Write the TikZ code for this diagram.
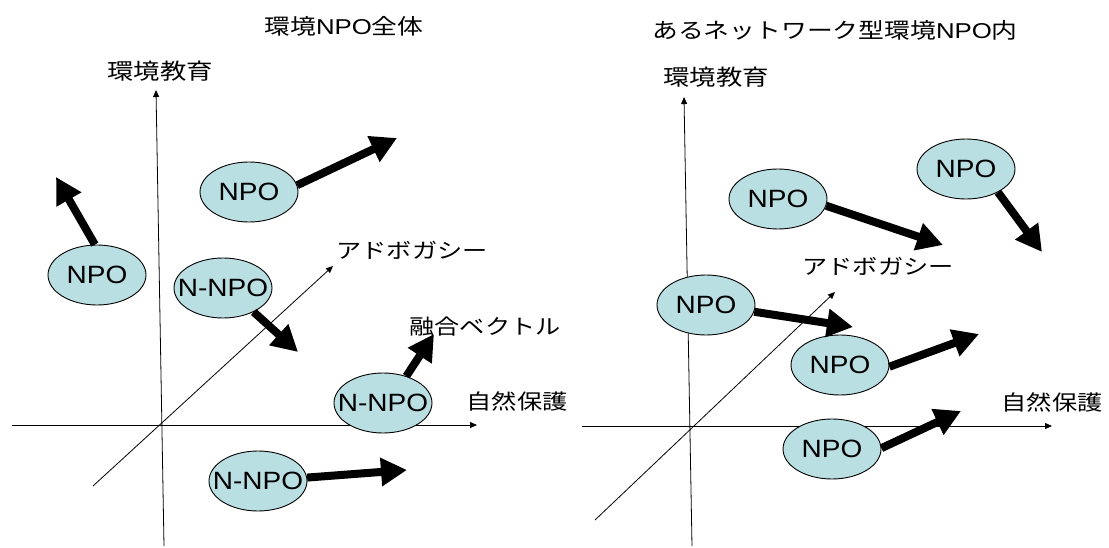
\documentclass[tikz,border=0pt]{standalone}
\usepackage{fontspec}
\setmainfont{Liberation Sans}[FakeStretch=1.2]
\newfontfamily\cjk{Noto Sans CJK JP}[FakeStretch=1.2]
\newfontfamily\orgfont{Liberation Sans}[FakeStretch=1.12]
\newcommand{\orgtxt}[1]{\smash{\raisebox{-0.358em}{\makebox[0pt]{#1}}}}
\usetikzlibrary{arrows.meta,shapes.geometric}
\definecolor{npofill}{RGB}{185,223,227}
\tikzset{
  org/.style={ellipse, draw=black, line width=0.9pt, fill=npofill, minimum width=98pt, minimum height=60pt, inner sep=0pt, font=\fontsize{25}{29}\selectfont\orgfont},
  lbl/.style={inner sep=0pt, font=\fontsize{21}{25}\selectfont\cjk},
  ttl/.style={inner sep=0pt, font=\fontsize{21.5}{25}\selectfont},
  axis/.style={line width=0.8pt, -{Triangle[length=7pt,width=6pt]}},
  vec/.style={line width=8pt, -{Triangle[length=26pt,width=27pt]}}
}
\begin{document}
\begin{tikzpicture}[x=1pt,y=-1pt]
\useasboundingbox (0,0) rectangle (1109,548);
% ---------- left panel ----------
\node[ttl] (t1) at (344,26) {{\cjk 環境}NPO{\cjk 全体}};
\node[lbl, font=\fontsize{22}{26}\selectfont\cjk] (ey1) at (160,71) {環境教育};
\node[lbl] (ad1) at (412,250) {アドボガシー};
\node[lbl] (nc1) at (517,401) {自然保護};
\node[lbl] (fv1) at (485,327) {融合ベクトル};
\coordinate (v1a) at (164,546); \coordinate (v1b) at (156,90);
\coordinate (h1a) at (12,425); \coordinate (h1b) at (477,425);
\coordinate (d1a) at (93,486); \coordinate (d1b) at (333,266);
\draw[axis] (v1a) -- (v1b);
\draw[axis] (h1a) -- (h1b);
\draw[axis] (d1a) -- (d1b);
\node[org] (A) at (249,192) {\orgtxt{NPO}};
\node[org] (B) at (97,275) {\orgtxt{NPO}};
\node[org] (C) at (223,288) {\orgtxt{N-NPO}};
\node[org] (D) at (383,403) {\orgtxt{N-NPO}};
\node[org] (E) at (258,481) {\orgtxt{N-NPO}};
\coordinate (tA) at (397,138);
\coordinate (tB) at (56,177);
\coordinate (tC) at (298,352);
\coordinate (tD) at (434,334);
\coordinate (tE) at (407,470);
\draw[vec] (A.8) -- (tA);
\draw[vec] (B.94) -- (tB);
\draw[vec] (C.-38) -- (tC);
\draw[vec] (D.49) -- (tD);
\draw[vec] (E.4) -- (tE);
% ---------- right panel ----------
\node[ttl] (t2) at (835,30) {{\cjk あるネットワーク型環境}NPO{\cjk 内}};
\node[lbl, font=\fontsize{22}{26}\selectfont\cjk] (ey2) at (716,77) {環境教育};
\node[lbl] (ad2) at (878,266) {アドボガシー};
\node[lbl] (nc2) at (1052,402) {自然保護};
\coordinate (v2a) at (692,546); \coordinate (v2b) at (684,97);
\coordinate (h2a) at (582,426); \coordinate (h2b) at (1052,426);
\coordinate (d2a) at (595,520); \coordinate (d2b) at (835,292);
\draw[axis] (v2a) -- (v2b);
\draw[axis] (h2a) -- (h2b);
\draw[axis] (d2a) -- (d2b);
\node[org] (F) at (966,169) {\orgtxt{NPO}};
\node[org] (G) at (778,199) {\orgtxt{NPO}};
\node[org] (H) at (706,305) {\orgtxt{NPO}};
\node[org] (I) at (840,365) {\orgtxt{NPO}};
\node[org] (J) at (832,449) {\orgtxt{NPO}};
\coordinate (tF) at (1042,252);
\coordinate (tG) at (943,245);
\coordinate (tH) at (853,327);
\coordinate (tI) at (979,334);
\coordinate (tJ) at (961,411);
\draw[vec] (F.-36) -- (tF);
\draw[vec] (G.-8) -- (tG);
\draw[vec] (H.-8) -- (tH);
\draw[vec] (I.-2) -- (tI);
\draw[vec] (J.1) -- (tJ);
\end{tikzpicture}
\end{document}
